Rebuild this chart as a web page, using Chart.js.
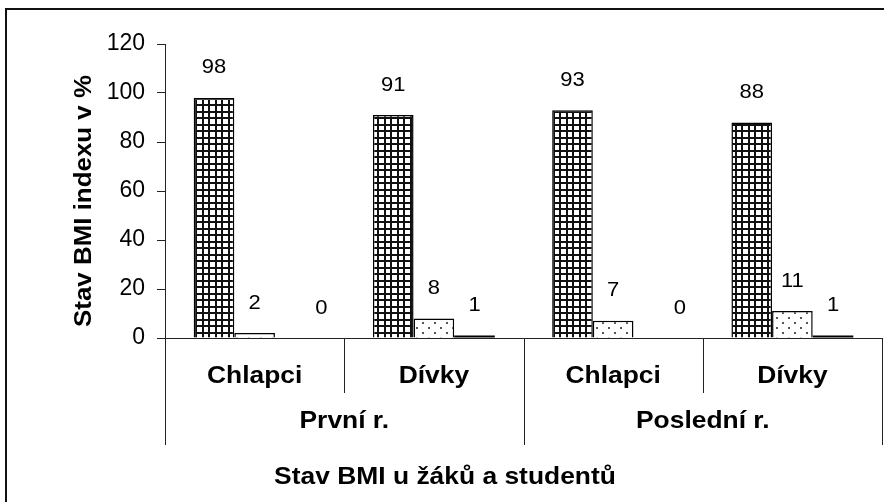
<!doctype html>
<html lang="cs">
<head>
<meta charset="UTF-8" />
<title>Stav BMI u žáků a studentů</title>
<script src="https://cdn.jsdelivr.net/npm/chart.js"></script>
<style>
  body { margin: 0; background: #fff; }
  #wrap { width: 884px; height: 502px; }
</style>
</head>
<body>
<div id="wrap"><canvas id="bmiChart" width="884" height="502"></canvas></div>
<script>
const categories = ["Chlapci", "Dívky", "Chlapci", "Dívky"];
const groups = ["První r.", "Poslední r."];
const normalBmi = [98, 91, 93, 88];
const overweight = [2, 8, 7, 11];
const obese = [0, 1, 0, 1];
const yTicks = [0, 20, 40, 60, 80, 100, 120];
const xTitle = "Stav BMI u žáků a studentů";
const yTitle = "Stav BMI indexu v %";

const FONT = "'Liberation Sans', Arial, sans-serif";

// checkered fill for the first series
function gridPattern() {
  const c = document.createElement("canvas");
  c.width = 13; c.height = 13;
  const g = c.getContext("2d");
  g.fillStyle = "#fff";
  g.fillRect(0, 0, 13, 13);
  g.fillStyle = "#111";
  g.fillRect(0, 0, 2, 13); g.fillRect(7, 0, 2, 13);
  g.fillRect(0, 0, 13, 2); g.fillRect(0, 7, 13, 2);
  return g.createPattern(c, "repeat");
}

// sparse dots for the second series
function dotPattern() {
  const c = document.createElement("canvas");
  c.width = 12; c.height = 10;
  const g = c.getContext("2d");
  g.fillStyle = "#fff";
  g.fillRect(0, 0, 12, 10);
  g.fillStyle = "#555";
  g.fillRect(2, 2, 2, 2);
  g.fillRect(8, 7, 2, 2);
  return g.createPattern(c, "repeat");
}

// text drawn slightly wide, the way the old office chart renders it
function wideText(ctx, text, x, y, sx, angle) {
  ctx.save();
  ctx.translate(x, y);
  if (angle) ctx.rotate(angle);
  ctx.scale(sx, 1);
  ctx.fillText(text, 0, 0);
  ctx.restore();
}

const valueLabels = {
  id: "valueLabels",
  afterDatasetsDraw(chart) {
    const ctx = chart.ctx;
    ctx.save();
    ctx.font = "20px " + FONT;
    ctx.fillStyle = "#000";
    ctx.textAlign = "center";
    ctx.textBaseline = "middle";
    chart.data.datasets.forEach((ds, i) => {
      chart.getDatasetMeta(i).data.forEach((bar, j) => {
        const v = ds.data[j];
        // zero bars get their label nudged right
        const x = bar.x + (v === 0 ? 26 : 0);
        wideText(ctx, String(v), x, bar.y - 30, 1.1);
      });
    });
    ctx.restore();
  }
};

// two-level category axis, axis titles and outer frame
const axisDecor = {
  id: "axisDecor",
  afterDraw(chart) {
    const ctx = chart.ctx;
    const area = chart.chartArea;
    const xs = chart.scales.x;
    const n = categories.length;
    const step = (area.right - area.left) / n;
    ctx.save();
    ctx.strokeStyle = "#222";
    ctx.lineWidth = 1;
    for (let i = 0; i <= n; i++) {
      const x = Math.round(area.left + i * step) + 0.5;
      const long = i % 2 === 0;
      ctx.beginPath();
      ctx.moveTo(x, area.bottom);
      ctx.lineTo(x, area.bottom + (long ? 107 : 55));
      ctx.stroke();
    }
    ctx.fillStyle = "#000";
    ctx.textAlign = "center";
    ctx.textBaseline = "middle";
    ctx.font = "bold 24px " + FONT;
    categories.forEach((c, i) => {
      wideText(ctx, c, xs.getPixelForValue(i), area.bottom + 38, 1.1);
    });
    groups.forEach((g, i) => {
      const x = area.left + (i * 2 + 1) * step;
      wideText(ctx, g, x, area.bottom + 83, 1.1);
    });
    wideText(ctx, xTitle, 445, 477, 1.1);
    wideText(ctx, yTitle, 84, 201, 1.08, -Math.PI / 2);

    ctx.lineWidth = 2;
    ctx.strokeStyle = "#111";
    ctx.strokeRect(6, 9, 1000, 1000);
    ctx.restore();
  }
};

const ctx = document.getElementById("bmiChart").getContext("2d");
new Chart(ctx, {
  type: "bar",
  data: {
    labels: categories,
    datasets: [
      { label: "Normální", data: normalBmi, backgroundColor: gridPattern(), borderColor: "#000", borderWidth: 1.5 },
      { label: "Nadváha", data: overweight, backgroundColor: dotPattern(), borderColor: "#000", borderWidth: 1.5 },
      { label: "Obezita", data: obese, backgroundColor: "#000", borderColor: "#000", borderWidth: 0 }
    ]
  },
  options: {
    responsive: false,
    animation: false,
    layout: { padding: { top: 44, right: 2, bottom: 0, left: 0 } },
    datasets: { bar: { categoryPercentage: 0.68, barPercentage: 1 } },
    plugins: { legend: { display: false }, tooltip: { enabled: false } },
    scales: {
      x: {
        grid: { display: false },
        ticks: { display: false },
        border: { color: "#222", width: 1 },
        afterFit: (s) => { s.height = 164; }
      },
      y: {
        min: 0,
        max: 120,
        afterBuildTicks: (s) => { s.ticks = yTicks.map((v) => ({ value: v })); },
        ticks: { color: "#000", font: { family: FONT, size: 23 }, padding: 12 },
        grid: { drawOnChartArea: false, tickLength: 8, color: "#222" },
        border: { color: "#222", width: 1 },
        afterFit: (s) => { s.width = 165; }
      }
    }
  },
  plugins: [valueLabels, axisDecor]
});
</script>
</body>
</html>
